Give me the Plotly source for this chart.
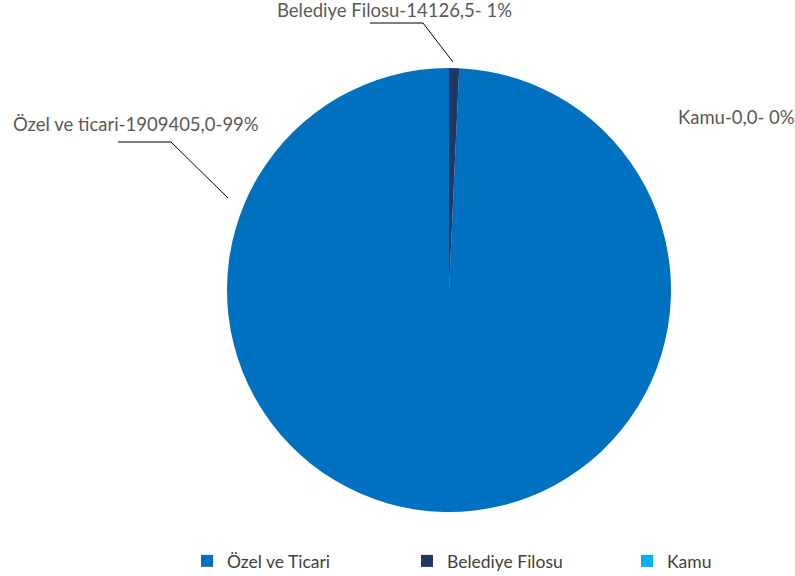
import plotly.graph_objects as go

# data
categories = ["Özel ve Ticari", "Belediye Filosu", "Kamu"]
values = [1909405.0, 14126.5, 0.0]
label_names = ["Özel ve ticari", "Belediye Filosu", "Kamu"]
pct_text = ["99%", " 1%", " 0%"]
colors = ["#0070C0", "#1F3864", "#00B0F0"]

def fmt(v):
    return f"{v:.1f}".replace(".", ",")

total = sum(values)

fig = go.Figure()
fig.add_trace(go.Pie(
    labels=categories,
    values=values,
    sort=False,
    direction="clockwise",
    # small slice just right of 12 o'clock
    rotation=360 * values[1] / total,
    marker=dict(colors=colors, line=dict(width=0)),
    textinfo="none",
    hoverinfo="skip",
    domain=dict(x=[227 / 795, 671 / 795], y=[64 / 576, 508 / 576]),
))

lbl_font = dict(family="Lato, Liberation Sans, sans-serif", size=18.5, color="#595959")
texts = [f"{n}-{fmt(v)}-{p}" for n, v, p in zip(label_names, values, pct_text)]

# label placements (pixels)
pos = [(136, 124), (394, 10), (736, 117)]
for t, (px, py) in zip(texts, pos):
    fig.add_annotation(text=t, x=px / 795, y=1 - py / 576, xref="paper", yref="paper",
                       showarrow=False, font=lbl_font, xanchor="center", yanchor="middle")

# leader lines
leaders = [
    [(118, 142), (171, 142), (228, 198)],
    [(370, 23), (423, 23), (453, 62)],
]
for pts in leaders:
    for (x0, y0), (x1, y1) in zip(pts[:-1], pts[1:]):
        fig.add_shape(type="line", xref="paper", yref="paper",
                      x0=x0 / 795, y0=1 - y0 / 576, x1=x1 / 795, y1=1 - y1 / 576,
                      line=dict(color="#000000", width=1))

fig.update_layout(
    width=795, height=576,
    margin=dict(l=0, r=0, t=0, b=0, autoexpand=False),
    paper_bgcolor="white",
    plot_bgcolor="white",
    showlegend=True,
    legend=dict(orientation="h", x=187 / 795, xanchor="left", y=15 / 576, yanchor="middle",
                entrywidth=175, entrywidthmode="pixels",
                font=dict(family="Lato, Liberation Sans, sans-serif", size=17.5, color="#404040")),
)

fig.write_html("out.html", config={"displayModeBar": False},
               post_script="document.body.style.margin='0';")
